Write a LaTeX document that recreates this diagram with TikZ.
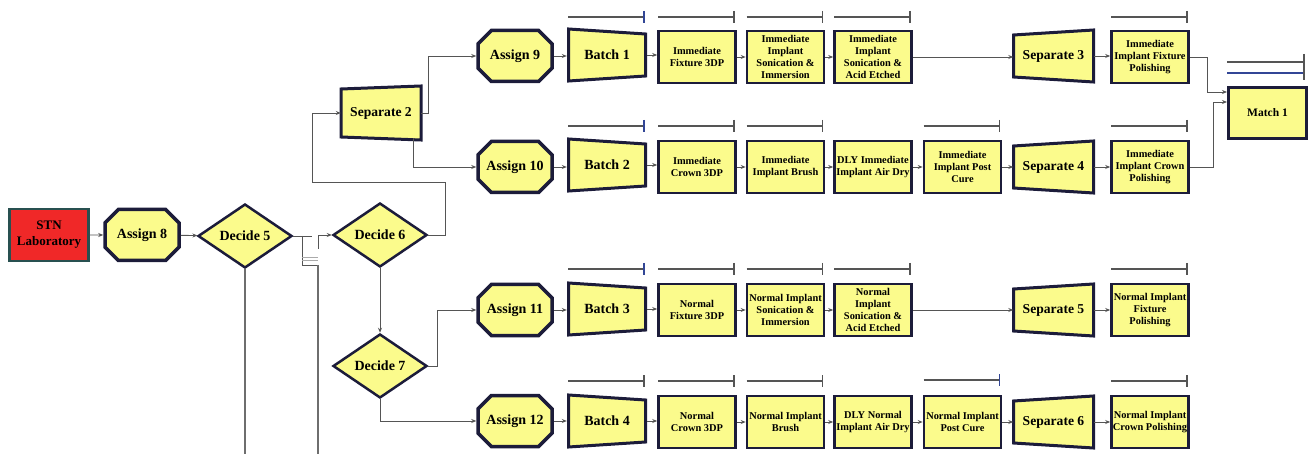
\documentclass[tikz,border=0pt]{standalone}
\usepackage{fontspec}
\setmainfont{Liberation Serif}
\usetikzlibrary{shapes.geometric,shapes.misc,arrows.meta,calc}
\definecolor{yel}{RGB}{251,251,140}
\definecolor{navy}{RGB}{28,28,58}
\definecolor{lin}{RGB}{85,85,85}
\definecolor{tickblue}{RGB}{50,70,150}
\definecolor{stnred}{RGB}{240,40,40}
\definecolor{stnedge}{RGB}{40,80,80}
\begin{document}
\begin{tikzpicture}[x=1pt,y=-1pt,
  conn/.style={draw=lin, line width=0.9pt, -{Stealth[length=5pt,width=4pt]}},
  plain/.style={draw=lin, line width=0.9pt},
  vline/.style={draw=lin!85, line width=1.6pt},
  barline/.style={draw=lin, line width=1.1pt},
  proc/.style={rectangle, draw=navy, line width=2.6pt, fill=yel, minimum width=77pt, minimum height=52pt, inner sep=0pt, align=center, font=\bfseries\fontsize{10.4}{11.9}\selectfont},
  assignbox/.style={chamfered rectangle, chamfered rectangle xsep=7pt, chamfered rectangle ysep=7pt, draw=navy, line width=3.5pt, fill=yel, minimum width=74pt, minimum height=51pt, inner sep=0pt, font=\bfseries\fontsize{14}{16}\selectfont},
  trap/.style={draw=navy, line width=3pt, fill=yel, line join=miter},
  lbl/.style={rectangle, minimum width=80pt, minimum height=50pt, inner sep=0pt, align=center},
  bigfont/.style={font=\bfseries\fontsize{14}{16}\selectfont},
  sepfont/.style={font=\bfseries\fontsize{13.6}{16}\selectfont},
  decide/.style={diamond, draw=navy, line width=2.5pt, fill=yel, minimum width=94pt, minimum height=64pt, inner sep=0pt, font=\bfseries\fontsize{14}{16}\selectfont},
]
\useasboundingbox (0,0) rectangle (1309,454);

% ---------- left part ----------
\node[rectangle, draw=stnedge, line width=2.6pt, fill=stnred, minimum width=79pt, minimum height=52pt, inner sep=0pt, align=center, font=\bfseries\fontsize{13}{16}\selectfont] (stn) at (49,235) {STN\\Laboratory};
\node[assignbox] (a8) at (142,235) {Assign 8};
\node[decide] (d5) at (245,236) {Decide 5};
\node[decide] (d6) at (380,235) {Decide 6};
\node[decide] (d7) at (380,366) {Decide 7};

% Separate 2
\draw[trap] (341,89) -- (421,86) -- (421,140) -- (341,137) -- cycle;
\node[lbl, sepfont] (sep2) at (381,113) {Separate 2};

% ---------- assigns ----------
\foreach \nm/\y/\t in {a9/56/Assign 9, a10/167/Assign 10, a11/310/Assign 11, a12/421/Assign 12}
  \node[assignbox] (\nm) at (515,\y) {\t};

% ---------- batches ----------
\foreach \nm/\y/\t in {b1/55/Batch 1, b2/165/Batch 2, b3/309/Batch 3, b4/421/Batch 4}{
  \draw[trap] (568.5,\y-26) -- (645.5,\y-21) -- (645.5,\y+21) -- (568.5,\y+26) -- cycle;
  \node[lbl, bigfont] (\nm) at (607,\y) {\t};
}

% ---------- separates ----------
\foreach \nm/\y/\t in {s3/56/Separate 3, s4/167/Separate 4, s5/310/Separate 5, s6/422/Separate 6}{
  \draw[trap] (1013.5,\y-21) -- (1093.5,\y-26) -- (1093.5,\y+26) -- (1013.5,\y+21) -- cycle;
  \node[lbl, sepfont] (\nm) at (1053.5,\y) {\t};
}

% ---------- processes ----------
\foreach \nm/\x/\y/\t in {
  p11/697/57/{Immediate\\Fixture 3DP},
  p12/785.5/57/{Immediate\\Implant\\Sonication \&\\Immersion},
  p13/873/57/{Immediate\\Implant\\Sonication \&\\Acid Etched},
  q1/1150/57/{Immediate\\Implant Fixture\\Polishing},
  p21/697/167/{Immediate\\Crown 3DP},
  p22/785.5/167/{Immediate\\Implant Brush},
  p23/873/167/{DLY Immediate\\Implant Air Dry},
  p24/962.5/167/{Immediate\\Implant Post\\Cure},
  q2/1150/167/{Immediate\\Implant Crown\\Polishing},
  p31/697/310/{Normal\\Fixture 3DP},
  p32/785.5/310/{Normal Implant\\Sonication \&\\Immersion},
  p33/873/310/{Normal\\Implant\\Sonication \&\\Acid Etched},
  q3/1150/310/{Normal Implant\\Fixture\\Polishing},
  p41/697/422/{Normal\\Crown 3DP},
  p42/785.5/422/{Normal Implant\\Brush},
  p43/873/422/{DLY Normal\\Implant Air Dry},
  p44/962.5/422/{Normal Implant\\Post Cure},
  q4/1150/422/{Normal Implant\\Crown Polishing}}
  \node[proc] (\nm) at (\x,\y) {\t};

% Match
\node[rectangle, draw=navy, line width=3pt, fill=yel, minimum width=78pt, minimum height=51pt, inner sep=0pt, font=\bfseries\fontsize{11.5}{13}\selectfont] (m1) at (1267.5,113) {Match 1};

% ---------- bars ----------
\foreach \x/\y/\c in {607/17/tickblue, 697/17/lin, 785.5/17/lin, 873/17/lin, 1150/17/lin,
                      607/126/tickblue, 697/126/lin, 785.5/126/lin, 962.5/126/lin, 1150/126/lin,
                      607/269/tickblue, 697/269/lin, 785.5/269/lin, 873/269/lin, 1150/269/lin,
                      607/381/lin, 697/381/lin, 785.5/381/lin, 962.5/380/tickblue, 1150/381/lin}{
  \draw[barline] (\x-39,\y) -- (\x+37,\y);
  \draw[draw=\c, line width=1.3pt] (\x+37,\y-6) -- (\x+37,\y+6);
}
\draw[barline] (1227,62) -- (1304,62);
\draw[draw=tickblue, line width=1.1pt] (1227,73) -- (1304,73);
\draw[draw=lin, line width=1.3pt] (1304,54) -- (1304,80);

% ---------- connectors on the left ----------
\draw[conn] (stn) -- (a8);
\draw[conn] (a8) -- (d5);
\draw[plain] (d5.east) -- (312,236);
\draw[plain] (302,236) -- (302,265) -- (318,265);
\draw[draw=lin!50, line width=0.7pt] (302,257) -- (318,257);
\draw[draw=lin!50, line width=0.7pt] (302,260) -- (318,260);
\draw[conn] (318,249) |- (d6.west);
\draw[vline] (318,265) -- (318,454);
\draw[vline] (d5.south) -- (245,454);
\draw[conn] (d6.east) -- (445,235) -- (445,182) -- (312,182) |- (sep2.west);
\draw[conn] (sep2.east) -- (428,113) |- (a9.west);
\draw[conn] ($(sep2.south)+(32,0)$) |- (a10.west);
\draw[conn] (d6.south) -- (d7.north);
\draw[conn] (d7.east) -- (437,366) |- (a11.west);
\draw[conn] (d7.south) |- (a12.west);

% ---------- row connectors ----------
\foreach \a/\b in {a9/b1, b1/p11, p11/p12, p12/p13, p13/s3, s3/q1,
                   a10/b2, b2/p21, p21/p22, p22/p23, p23/p24, p24/s4, s4/q2,
                   a11/b3, b3/p31, p31/p32, p32/p33, p33/s5, s5/q3,
                   a12/b4, b4/p41, p41/p42, p42/p43, p43/p44, p44/s6, s6/q4}
  \draw[conn] (\a.east) -- (\b.west |- \a.east);

% ---------- to Match ----------
\draw[conn] (q1.east) -- (1207,57) |- (m1.west |- 0,92);
\draw[conn] (q2.east) -- (1213,167) |- (m1.west |- 0,102);
\end{tikzpicture}
\end{document}
